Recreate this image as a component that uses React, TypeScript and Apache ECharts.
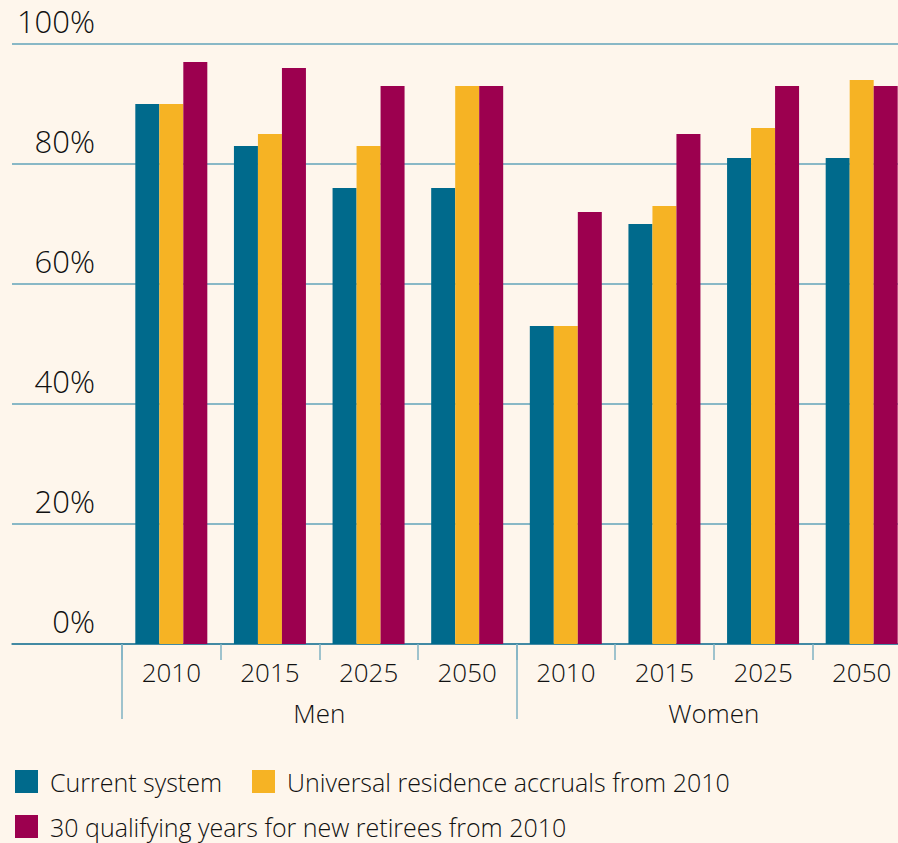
import React, { useEffect, useRef } from "react";
import * as echarts from "echarts";

const years = ["2010", "2015", "2025", "2050", "2010", "2015", "2025", "2050"];
const groups = ["Men", "Women"];
const yTicks = [0, 20, 40, 60, 80, 100];
const currentSystem = [90, 83, 76, 76, 53, 70, 81, 81];
const universalResidence = [90, 85, 83, 93, 53, 73, 86, 94];
const qualifyingYears = [97, 96, 93, 93, 72, 85, 93, 93];
const seriesNames = [
  "Current system",
  "Universal residence accruals from 2010",
  "30 qualifying years for new retirees from 2010",
];
const colors = ["#006A8C", "#F6B324", "#9C004F"];

const FONT = "'Open Sans', 'Noto Sans', sans-serif";
const WEIGHT = 300;
const TEXT = "#111111";
const GRID_LINE = "#62a3ba";
const AXIS_LINE = "#2d7b98";
const TICK = "#7fb2c3";

export default function App() {
  const ref = useRef<HTMLDivElement>(null);
  useEffect(() => {
    if (!ref.current) return;
    const chart = echarts.init(ref.current, null, { renderer: "svg" });
    const yAxisBase = {
      type: "value",
      min: 0,
      max: 100,
      interval: 20,
      axisLine: { show: false },
      axisTick: { show: false },
      splitLine: { show: true, lineStyle: { color: GRID_LINE, width: 1.5 } },
    };
    chart.setOption({
      animation: false,
      backgroundColor: "#FEF6EC",
      textStyle: { fontFamily: FONT, fontWeight: WEIGHT },
      grid: [
        { left: 12, width: 110, top: 44, bottom: 199 },
        { left: 122, right: 0, top: 44, bottom: 199 },
      ],
      xAxis: [
        {
          gridIndex: 0,
          type: "category",
          data: [""],
          axisLine: { show: true, lineStyle: { color: AXIS_LINE, width: 1.5 } },
          axisTick: { show: false },
          axisLabel: { show: false },
        },
        {
          gridIndex: 1,
          type: "category",
          data: years,
          axisLine: { show: true, lineStyle: { color: AXIS_LINE, width: 1.5 } },
          axisTick: { show: true, interval: 0, length: 16, lineStyle: { color: TICK, width: 1.5 } },
          axisLabel: { interval: 0, fontSize: 26, color: TEXT, margin: 15, fontFamily: FONT, fontWeight: WEIGHT },
        },
        {
          gridIndex: 1,
          type: "category",
          data: groups,
          position: "bottom",
          axisLine: { show: false },
          axisTick: { show: true, interval: 0, length: 75, lineStyle: { color: TICK, width: 1.5 } },
          axisLabel: { interval: 0, fontSize: 26, color: TEXT, margin: 56, fontFamily: FONT, fontWeight: WEIGHT },
        },
      ],
      yAxis: [
        {
          ...yAxisBase,
          gridIndex: 0,
          position: "right",
          axisLabel: {
            inside: true,
            margin: 27,
            fontSize: 31,
            lineHeight: 28,
            color: TEXT,
            fontFamily: FONT,
            fontWeight: WEIGHT,
            verticalAlign: "bottom",
            padding: [0, 0, 9, 0],
            formatter: (v: number) => (yTicks.includes(v) ? v + "%" : ""),
          },
        },
        {
          ...yAxisBase,
          gridIndex: 1,
          axisLabel: { show: false },
        },
      ],
      legend: [
        {
          data: seriesNames.slice(0, 2),
          left: 15,
          top: 769,
          padding: 0,
          itemWidth: 23,
          itemHeight: 23,
          itemGap: 30,
          icon: "rect",
          textStyle: { fontSize: 25, color: TEXT, fontFamily: FONT, fontWeight: WEIGHT, padding: [0, 0, 0, 7] },
        },
        {
          data: seriesNames.slice(2),
          left: 15,
          top: 814,
          padding: 0,
          itemWidth: 23,
          itemHeight: 23,
          icon: "rect",
          textStyle: { fontSize: 25, color: TEXT, fontFamily: FONT, fontWeight: WEIGHT, padding: [0, 0, 0, 7] },
        },
      ],
      series: [currentSystem, universalResidence, qualifyingYears].map((d, i) => ({
        name: seriesNames[i],
        type: "bar",
        xAxisIndex: 1,
        yAxisIndex: 1,
        data: d,
        barWidth: 24,
        barGap: "0%",
        itemStyle: { color: colors[i] },
      })),
    });
    return () => chart.dispose();
  }, []);
  return (
    <div
      ref={ref}
      style={{ position: "fixed", left: 0, top: 0, width: 911, height: 843 }}
    />
  );
}
